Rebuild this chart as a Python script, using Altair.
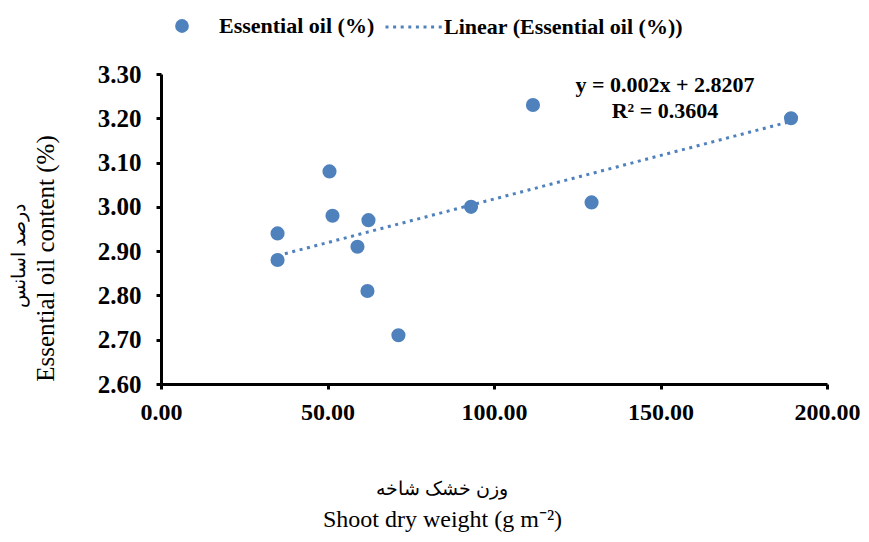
import altair as alt
import pandas as pd

# ---- data ----
shoot_dry_weight = [35.0, 35.0, 50.6, 51.5, 59.0, 62.3, 62.0, 71.3, 93.1, 111.7, 129.3, 189.2]
essential_oil = [2.94, 2.88, 3.08, 2.98, 2.91, 2.97, 2.81, 2.71, 3.00, 3.23, 3.01, 3.20]
series_name = "Essential oil (%)"
trend_name = "Linear (Essential oil (%))"
equation_lines = ["y = 0.002x + 2.8207", "R² = 0.3604"]
x_ticks = [0, 50, 100, 150, 200]
y_ticks = [2.6, 2.7, 2.8, 2.9, 3.0, 3.1, 3.2, 3.3]
x_title_en = "Shoot dry weight (g m⁻²)"
x_title_fa = "وزن خشک شاخه"
y_title_en = "Essential oil content (%)"
y_title_fa = "درصد اسانس"

BLUE = "#4F81BD"
FONT = "Liberation Serif"

df = pd.DataFrame({"x": shoot_dry_weight, "y": essential_oil, "series": series_name})

x_enc = alt.X(
    "x:Q",
    scale=alt.Scale(domain=[0, 200], nice=False, zero=False),
    axis=alt.Axis(
        values=x_ticks, format=".2f", title=x_title_en,
        titleX=281, titleY=135, titleAlign="center", titleBaseline="middle",
        titleAngle=0, labelPadding=11, labelFlush=False, labelFontSize=24,
        titleFontSize=24,
    ),
)
y_enc = alt.Y(
    "y:Q",
    scale=alt.Scale(domain=[2.6, 3.3], nice=False, zero=False),
    axis=alt.Axis(
        values=y_ticks, format=".2f", title=y_title_en,
        titleX=-116, titleY=184, titleAlign="center", titleBaseline="middle",
        titleAngle=270, labelPadding=15, labelFlush=False, labelFontSize=25,
        titleFontSize=25,
    ),
)

base = alt.Chart(df)

points = base.mark_point(filled=True, size=200, opacity=1).encode(
    x=x_enc,
    y=y_enc,
    color=alt.Color(
        "series:N",
        scale=alt.Scale(domain=[series_name], range=[BLUE]),
        legend=alt.Legend(
            title=None, orient="none", legendX=10, legendY=-59,
            symbolType="circle", symbolSize=190, symbolStrokeWidth=0,
            labelFont=FONT, labelFontSize=22, labelFontWeight="bold",
            labelColor="black", labelOffset=26, padding=0, labelLimit=500,
        ),
    ),
)

trend = base.transform_regression("x", "y").transform_calculate(
    trend=f"'{trend_name}'"
).mark_line(color=BLUE, strokeWidth=3, strokeCap="butt").encode(
    x="x:Q",
    y="y:Q",
    strokeDash=alt.StrokeDash(
        "trend:N",
        scale=alt.Scale(domain=[trend_name], range=[[3, 4.6]]),
        legend=alt.Legend(
            title=None, orient="none", legendX=223, legendY=-77,
            symbolType="stroke", symbolSize=3249, symbolStrokeColor=BLUE,
            symbolStrokeWidth=3,
            labelFont=FONT, labelFontSize=22, labelFontWeight="bold",
            labelColor="black", labelOffset=0, padding=0, labelLimit=500,
        ),
    ),
)

eq = alt.Chart(pd.DataFrame({"eq": ["\n".join(equation_lines)]})).mark_text(
    font=FONT, fontSize=22, fontWeight="bold", color="black",
    align="center", baseline="middle", lineBreak="\n", lineHeight=26,
).encode(x=alt.value(504), y=alt.value(11), text="eq:N")

fa_x = alt.Chart(pd.DataFrame({"t": [x_title_fa]})).mark_text(
    font=FONT, fontSize=19, color="black", align="center", baseline="middle",
).encode(x=alt.value(281), y=alt.value(415), text="t:N")

fa_y = alt.Chart(pd.DataFrame({"t": [y_title_fa]})).mark_text(
    font=FONT, fontSize=19, color="black", align="center", baseline="middle",
    angle=270,
).encode(x=alt.value(-142), y=alt.value(182), text="t:N")

chart = alt.layer(points, trend, eq, fa_x, fa_y).properties(
    width=666, height=310,
    autosize=alt.AutoSizeParams(type="none"),
    padding={"left": 153, "top": 66, "right": 34, "bottom": 150},
).configure_view(stroke=None).configure_axis(
    grid=False,
    domainColor="black", domainWidth=3,
    tickColor="black", tickWidth=3, tickSize=5,
    labelFont=FONT, labelFontWeight="bold", labelColor="black",
    titleFont=FONT, titleFontWeight="normal", titleColor="black",
)

chart.save("out.html", embed_options={"renderer": "svg", "actions": False})
